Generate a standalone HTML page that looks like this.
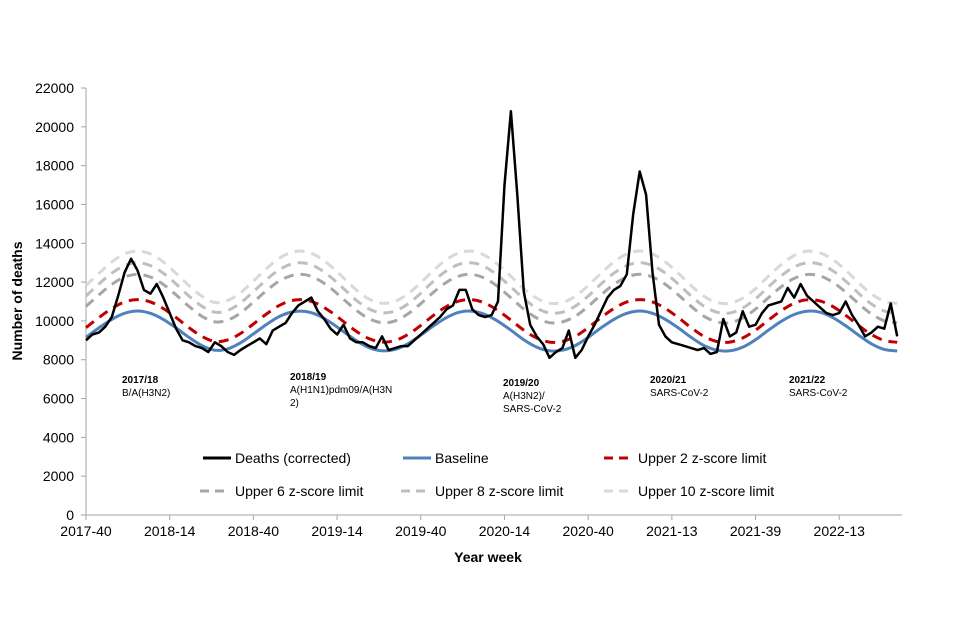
<!DOCTYPE html>
<html><head><meta charset="utf-8">
<style>
html,body{margin:0;padding:0;background:#fff;}
svg{display:block;font-family:"Liberation Sans",Arial,sans-serif;}
</style></head>
<body>
<svg id="chart" width="960" height="640" viewBox="0 0 960 640">
  <g id="axes"></g>
  <g id="series"></g>
  <g id="annotations">
    <text x="122" y="383" font-size="10" font-weight="bold">2017/18</text>
    <text x="122" y="396" font-size="10">B/A(H3N2)</text>
    <text x="290" y="380" font-size="10" font-weight="bold">2018/19</text>
    <text x="290" y="393" font-size="10">A(H1N1)pdm09/A(H3N</text>
    <text x="290" y="406" font-size="10">2)</text>
    <text x="503" y="386" font-size="10" font-weight="bold">2019/20</text>
    <text x="503" y="399" font-size="10">A(H3N2)/</text>
    <text x="503" y="412" font-size="10">SARS-CoV-2</text>
    <text x="650" y="383" font-size="10" font-weight="bold">2020/21</text>
    <text x="650" y="396" font-size="10">SARS-CoV-2</text>
    <text x="789" y="383" font-size="10" font-weight="bold">2021/22</text>
    <text x="789" y="396" font-size="10">SARS-CoV-2</text>
  </g>
  <g id="legend">
    <g>
      <line x1="203" y1="458" x2="231" y2="458" stroke="#000" stroke-width="3"/>
      <text x="235" y="463" font-size="14">Deaths (corrected)</text>
    </g>
    <g>
      <line x1="403" y1="458" x2="431" y2="458" stroke="#4f81bd" stroke-width="3"/>
      <text x="435" y="463" font-size="14">Baseline</text>
    </g>
    <g>
      <line x1="604" y1="458" x2="634" y2="458" stroke="#c00000" stroke-width="3" stroke-dasharray="9,6"/>
      <text x="638" y="463" font-size="14">Upper 2 z-score limit</text>
    </g>
    <g>
      <line x1="200" y1="491" x2="230" y2="491" stroke="#a6a6a6" stroke-width="3" stroke-dasharray="9,6"/>
      <text x="235" y="496" font-size="14">Upper 6 z-score limit</text>
    </g>
    <g>
      <line x1="401" y1="491" x2="431" y2="491" stroke="#bfbfbf" stroke-width="3" stroke-dasharray="9,6"/>
      <text x="435" y="496" font-size="14">Upper 8 z-score limit</text>
    </g>
    <g>
      <line x1="604" y1="491" x2="634" y2="491" stroke="#d9d9d9" stroke-width="3" stroke-dasharray="9,6"/>
      <text x="638" y="496" font-size="14">Upper 10 z-score limit</text>
    </g>
  </g>
  <text x="488" y="562" font-size="14" font-weight="bold" text-anchor="middle">Year week</text>
  <text transform="translate(22,301) rotate(-90)" font-size="14" font-weight="bold" text-anchor="middle">Number of deaths</text>
</svg>
<script>
const xTickLabels = ["2017-40","2018-14","2018-40","2019-14","2019-40","2020-14","2020-40","2021-13","2021-39","2022-13"];
const xTickWeeks = [0,26,52,78,104,130,156,182,208,234];
const yTicks = [0,2000,4000,6000,8000,10000,12000,14000,16000,18000,20000,22000];
const limitWeeks = [0,4,8,12,16,20,24,28,32,36,40,44,48,52,56,60,64,68,72,76,80,84,88,92,96,100,104,108,112,116,120,124,128,132,136,140,144,148,152,156,160,164,168,172,176,180,184,188,192,196,200,204,208,212,216,220,224,228,232,236,240,244,248,252];
const baseline = [9150,9640,10080,10390,10510,10390,10080,9640,9150,8730,8490,8560,8870,9330,9810,10220,10460,10490,10300,9920,9450,8980,8620,8460,8530,8820,9270,9750,10170,10450,10500,10330,9980,9520,9030,8650,8460,8490,8730,9150,9640,10080,10390,10510,10390,10080,9640,9150,8730,8490,8460,8650,9030,9520,9980,10330,10500,10450,10170,9750,9270,8820,8530,8450];
const upper2 = [9650,10170,10640,10980,11100,10980,10640,10170,9650,9200,8940,9020,9350,9840,10350,10790,11050,11080,10870,10470,9970,9460,9080,8910,8990,9300,9770,10290,10740,11030,11090,10910,10530,10040,9520,9120,8910,8940,9200,9650,10170,10640,10980,11100,10980,10640,10170,9650,9200,8940,8910,9120,9520,10040,10530,10910,11090,11030,10740,10290,9770,9300,8990,8900];
const upper6 = [10750,11340,11880,12260,12400,12260,11880,11340,10750,10240,9950,10040,10410,10970,11550,12050,12340,12380,12140,11690,11120,10540,10110,9910,10000,10360,10890,11480,11990,12320,12390,12190,11760,11190,10610,10150,9910,9950,10240,10750,11340,11880,12260,12400,12260,11880,11340,10750,10240,9950,9910,10150,10610,11190,11760,12190,12390,12320,11990,11480,10890,10360,10000,9900];
const upper8 = [11280,11900,12460,12850,13000,12850,12460,11900,11280,10760,10450,10540,10930,11510,12120,12630,12940,12980,12730,12260,11670,11060,10610,10410,10510,10870,11430,12050,12580,12920,12990,12780,12330,11750,11140,10660,10410,10450,10760,11280,11900,12460,12850,13000,12850,12460,11900,11280,10760,10450,10410,10660,11140,11750,12330,12780,12990,12920,12580,12050,11430,10870,10510,10400];
const upper10 = [11820,12450,13040,13450,13600,13450,13040,12450,11820,11270,10950,11050,11450,12050,12680,13220,13540,13580,13320,12830,12220,11590,11120,10910,11010,11390,11970,12610,13160,13510,13590,13370,12900,12300,11660,11170,10910,10950,11270,11820,12450,13040,13450,13600,13450,13040,12450,11820,11270,10950,10910,11170,11660,12300,12900,13370,13590,13510,13160,12610,11970,11390,11010,10900];
const deathWeeks = [0,2,4,6,8,10,12,14,16,18,20,22,24,26,28,30,32,34,36,38,40,42,44,46,48,50,52,54,56,58,60,62,64,66,68,70,72,74,76,78,80,82,84,86,88,90,92,94,96,98,100,102,104,106,108,110,112,114,116,118,120,122,124,126,128,130,132,134,136,138,140,142,144,146,148,150,152,154,156,158,160,162,164,166,168,170,172,174,176,178,180,182,184,186,188,190,192,194,196,198,200,202,204,206,208,210,212,214,216,218,220,222,224,226,228,230,232,234,236,238,240,242,244,246,248,250,252];
const deaths = [9000,9300,9400,9700,10200,11300,12500,13200,12600,11600,11400,11900,11200,10400,9600,9000,8900,8700,8600,8400,8900,8700,8400,8250,8500,8700,8900,9100,8800,9500,9700,9900,10400,10800,11000,11200,10500,10100,9600,9300,9800,9100,8900,8900,8700,8600,9200,8500,8600,8700,8700,9000,9300,9600,9900,10200,10600,10800,11600,11600,10600,10300,10200,10300,11000,17000,20800,16500,11500,9800,9200,8800,8100,8400,8600,9500,8100,8500,9200,9800,10500,11200,11600,11800,12400,15500,17700,16500,12500,9800,9200,8900,8800,8700,8600,8500,8600,8300,8400,10100,9200,9400,10500,9700,9800,10400,10800,10900,11000,11700,11200,11900,11300,11000,10700,10400,10300,10400,11000,10300,9800,9200,9400,9700,9600,10900,9200];

const X0 = 86, X1 = 902, Y0 = 515, Y1 = 88, XMAX = 253.5, YMAX = 22000;
const xs = w => X0 + (w / XMAX) * (X1 - X0);
const ys = v => Y0 - (v / YMAX) * (Y0 - Y1);
const NS = "http://www.w3.org/2000/svg";
const axes = document.getElementById('axes');
const series = document.getElementById('series');

function mk(tag, attrs, parent) {
  const el = document.createElementNS(NS, tag);
  for (const k in attrs) el.setAttribute(k, attrs[k]);
  parent.appendChild(el);
  return el;
}

// y axis
const yAxis = mk('line', {x1: X0, y1: Y1, x2: X0, y2: Y0, stroke: '#a6a6a6', 'stroke-width': 1}, axes);


const xAxis = mk('line', {x1: X0, y1: Y0, x2: X1, y2: Y0, stroke: '#a6a6a6', 'stroke-width': 1}, axes);



yTicks.forEach(v => {
  const y = ys(v);
  const t = mk('line', {x1: X0 - 5, y1: y, x2: X0, y2: y, stroke: '#a6a6a6'}, axes);
  
  
  const lb = mk('text', {x: 74, y: y + 5, 'font-size': 14, 'text-anchor': 'end', fill: '#000'}, axes);
  lb.textContent = String(v);
  
  
});
xTickWeeks.forEach((w, i) => {
  const x = xs(w);
  const t = mk('line', {x1: x, y1: Y0, x2: x, y2: Y0 + 5, stroke: '#a6a6a6'}, axes);
  
  
  const lb = mk('text', {x: x, y: 536, 'font-size': 14, 'text-anchor': 'middle', fill: '#000'}, axes);
  lb.textContent = xTickLabels[i];
  
  
});

function smoothPath(weeks, vals) {
  const p = weeks.map((w, i) => [xs(w), ys(vals[i])]);
  let d = 'M' + p[0][0].toFixed(1) + ',' + p[0][1].toFixed(1);
  for (let i = 0; i < p.length - 1; i++) {
    const p0 = p[i - 1] || p[i], p1 = p[i], p2 = p[i + 1], p3 = p[i + 2] || p2;
    const c1 = [p1[0] + (p2[0] - p0[0]) / 6, p1[1] + (p2[1] - p0[1]) / 6];
    const c2 = [p2[0] - (p3[0] - p1[0]) / 6, p2[1] - (p3[1] - p1[1]) / 6];
    d += 'C' + c1[0].toFixed(1) + ',' + c1[1].toFixed(1) + ' ' + c2[0].toFixed(1) + ',' + c2[1].toFixed(1) + ' ' + p2[0].toFixed(1) + ',' + p2[1].toFixed(1);
  }
  return d;
}

const u10 = mk('path', {d: smoothPath(limitWeeks, upper10), fill: 'none', stroke: '#d9d9d9', 'stroke-width': 3, 'stroke-dasharray': '10,7'}, series);


const u8 = mk('path', {d: smoothPath(limitWeeks, upper8), fill: 'none', stroke: '#bfbfbf', 'stroke-width': 3, 'stroke-dasharray': '10,7'}, series);


const u6 = mk('path', {d: smoothPath(limitWeeks, upper6), fill: 'none', stroke: '#a6a6a6', 'stroke-width': 3, 'stroke-dasharray': '10,7'}, series);


const u2 = mk('path', {d: smoothPath(limitWeeks, upper2), fill: 'none', stroke: '#c00000', 'stroke-width': 3, 'stroke-dasharray': '10,7'}, series);


const bl = mk('path', {d: smoothPath(limitWeeks, baseline), fill: 'none', stroke: '#4f81bd', 'stroke-width': 3}, series);



const dpts = deathWeeks.map((w, i) => xs(w).toFixed(1) + ',' + ys(deaths[i]).toFixed(1)).join(' ');
const dl = mk('polyline', {points: dpts, fill: 'none', stroke: '#000', 'stroke-width': 2.5, 'stroke-linejoin': 'round'}, series);


</script>
</body></html>
